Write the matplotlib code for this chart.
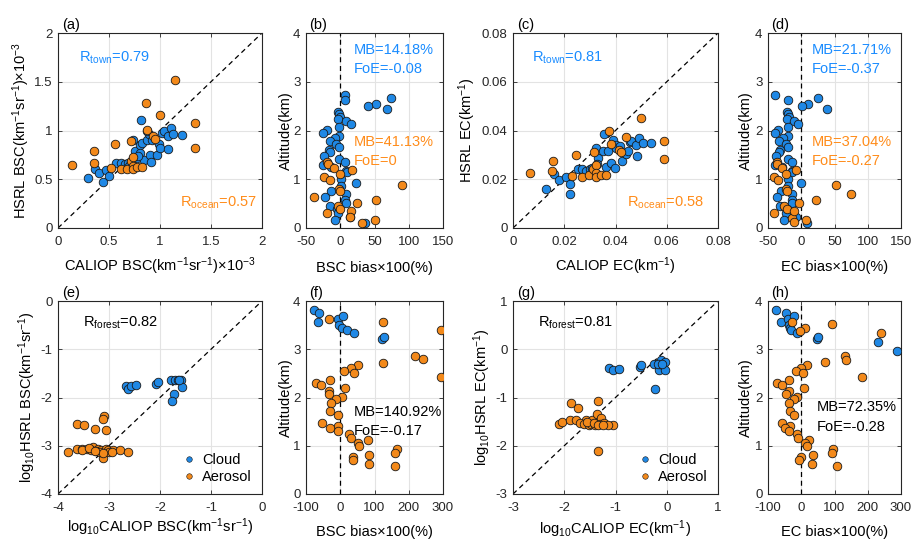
import matplotlib
matplotlib.use("Agg")
import matplotlib.pyplot as plt
from matplotlib.lines import Line2D

plt.rcParams['font.family'] = ['Liberation Sans', 'DejaVu Sans']
plt.rcParams['mathtext.fontset'] = 'custom'
plt.rcParams['mathtext.rm'] = 'Liberation Sans'
plt.rcParams['mathtext.it'] = 'Liberation Sans:italic'
plt.rcParams['mathtext.bf'] = 'Liberation Sans:bold'
plt.rcParams['axes.unicode_minus'] = False

# ---------------- data ----------------
# (a) BSC scatter (x1e-3)
a_town_x = [0.29, 0.36, 0.40, 0.44, 0.47, 0.50, 0.57, 0.62, 0.66, 0.69, 0.72, 0.74, 0.75, 0.77, 0.80, 0.81,
            0.82, 0.80, 0.84, 0.87, 0.89, 0.90, 0.91, 0.97, 0.99, 1.00, 1.02, 1.04, 1.08, 1.08, 1.11, 1.13,
            1.22, 0.87, 0.92, 0.78, 0.70]
a_town_y = [0.51, 0.61, 0.56, 0.475, 0.595, 0.535, 0.67, 0.665, 0.66, 0.665, 0.68, 0.905, 0.79, 0.715, 0.855, 1.11,
            0.87, 0.77, 0.70, 0.905, 0.96, 0.75, 0.68, 0.75, 0.864, 0.82, 0.97, 1.0, 0.94, 0.81, 1.03, 0.96,
            0.95, 0.99, 0.905, 0.74, 0.64]
a_ocean_x = [0.14, 0.35, 0.35, 0.56, 0.52, 0.62, 0.68, 0.72, 0.72, 0.74, 0.74, 0.74, 0.77, 0.82, 0.86, 0.87,
             0.93, 0.95, 1.00, 1.15, 1.34, 1.34]
a_ocean_y = [0.65, 0.785, 0.67, 0.857, 0.62, 0.61, 0.61, 0.895, 0.69, 0.73, 0.64, 0.61, 0.63, 0.63, 1.28, 1.01,
             0.94, 0.91, 1.16, 1.52, 1.08, 0.82]

# (b) BSC bias vs altitude
b_town_x = [7.3, 7.3, 74.5, 52, 40, 68, -3.4, -1.5, 0, -3.4, 8.8, 15.6, -2, -19.5, -25, -1.5, -8.3, -15.6,
            -5.8, -2.4, -17, -15.6, -23, -2.4, 6.3, -25, -13, 8.3, 9.7, 1, 23, 1, -13, 8.3, -22, 6.3,
            8.8, -14.6, -4.9, -3.9, 13.6, -7.3, 36.5]
alt_town = [2.73, 2.62, 2.67, 2.55, 2.50, 2.44, 2.38, 2.33, 2.28, 2.24, 2.20, 2.13, 2.07, 2.02, 1.95, 1.89,
            1.85, 1.78, 1.73, 1.66, 1.59, 1.55, 1.48, 1.41, 1.35, 1.29, 1.25, 1.17, 1.14, 1.0, 0.93, 0.86,
            0.76, 0.70, 0.64, 0.57, 0.52, 0.45, 0.40, 0.30, 0.23, 0.16, 0.10]
b_ocean_x = [-39, -19.5, -18, -24, -14.6, -8.8, -1, 17, -2.4, 0, -3.9, 0, -19.5, 24, 52.6, 90, 15.6, 14.6,
             31.6, 50]
b_ocean_y = [0.64, 1.36, 1.31, 1.05, 0.98, 1.24, 1.11, 1.18, 0.81, 0.76, 0.45, 0.40, 0.30, 0.52, 0.58, 0.88,
             0.34, 0.23, 0.10, 0.16]

# (c) EC scatter
c_town_x = [0.0127, 0.016, 0.0178, 0.0206, 0.0221, 0.0221, 0.0255, 0.0271, 0.0284, 0.030, 0.031, 0.0325,
            0.0332, 0.0329, 0.0351, 0.0355, 0.0364, 0.0371, 0.0384, 0.039, 0.0397, 0.0401, 0.0401, 0.0416,
            0.0427, 0.0442, 0.0449, 0.0455, 0.0462, 0.0481, 0.0484, 0.049, 0.0507, 0.054]
c_town_y = [0.016, 0.022, 0.0197, 0.0211, 0.018, 0.0138, 0.0244, 0.0244, 0.0234, 0.0241, 0.0248, 0.033,
            0.0289, 0.0262, 0.0314, 0.0387, 0.0252, 0.0317, 0.0266, 0.0362, 0.0245, 0.0341, 0.0328, 0.0335,
            0.0273, 0.0303, 0.0317, 0.0351, 0.0358, 0.0339, 0.0296, 0.0368, 0.0348, 0.0348]
c_ocean_x = [0.0065, 0.0156, 0.0152, 0.0245, 0.0229, 0.0271, 0.0297, 0.0316, 0.0312, 0.0325, 0.0325, 0.0325,
             0.0345, 0.0362, 0.0375, 0.0381, 0.0414, 0.042, 0.044, 0.0501, 0.0588, 0.0588]
c_ocean_y = [0.0224, 0.0275, 0.0234, 0.0299, 0.0215, 0.0211, 0.0216, 0.031, 0.0241, 0.0257, 0.0224, 0.0211,
             0.0216, 0.0216, 0.040, 0.0344, 0.0321, 0.0313, 0.0373, 0.045, 0.0358, 0.0285]

# (d) EC bias vs altitude
d_town_x = [-39.4, -19.3, 24.9, 10.8, 1.8, 38.4, -21.9, -19.3, -17.8, -20.8, -10.3, -4.3, -20.3, -35.4, -39.4,
            -20.3, -26.9, -33, -23.4, -20.3, -31.9, -33, -38, -20.3, -13.3, -39.4, -29.4, -14.3, -13.3, -19.3,
            0, -19.3, -30.9, -13.3, -36.9, -14.3, -13.3, -31.9, -21.9, -22.9, -7.8, -25.4, 8.3]
d_ocean_x = [-41, -37, -36, -41, -34.4, -29.4, -23.4, -7.8, -23.4, -21.9, -25.4, -21.9, -14.3, -10.8, -10.3,
             -2.8, 21.9, 52, 75, 6.8]
d_ocean_y = [0.30, 1.36, 1.31, 1.05, 0.98, 1.24, 1.11, 1.18, 0.81, 0.76, 0.45, 0.40, 0.21, 0.34, 0.12, 0.52,
             0.58, 0.88, 0.70, 0.16]

# (e) log10 BSC scatter
e_cloud_x = [-2.67, -2.62, -2.56, -2.48, -2.07, -2.03, -1.78, -1.70, -1.65, -1.59, -1.57, -1.72, -1.76, -1.63]
e_cloud_y = [-1.77, -1.83, -1.77, -1.75, -1.72, -1.67, -1.63, -1.63, -1.63, -1.63, -1.79, -1.93, -2.07, -1.64]
e_aer_x = [-3.80, -3.63, -3.53, -3.43, -3.31, -3.21, -3.15, -3.06, -3.02, -2.92, -2.79, -2.62, -3.11, -3.63,
           -3.49, -3.27, -3.10, -3.11, -3.05, -3.52, -3.35, -3.25, -3.18, -3.0, -3.40, -2.95, -3.12, -3.28]
e_aer_y = [-3.12, -3.06, -3.06, -3.06, -3.03, -3.06, -3.09, -3.07, -3.09, -3.09, -3.09, -3.12, -3.26, -2.54,
           -2.57, -2.66, -2.38, -2.45, -2.68, -3.09, -3.08, -3.10, -3.12, -3.13, -3.05, -3.12, -3.14, -3.11]

# (f) BSC bias vs altitude (forest)
f_cloud_x = [-78, -63, -66, -8, 8, -5, 5, 19.5, 41, 123, 129]
f_cloud_y = [3.81, 3.75, 3.57, 3.63, 3.69, 3.50, 3.45, 3.39, 3.33, 3.21, 3.26]
f_aer_x = [-32, 125, 294, 219, 243, 125, 50.6, 31, 10, 41, 294, -31, -70, -55, -32, -34, 15, 5, -12, -26,
           -29, -8, -53, -8, -29, -8, 27, 32, 80, 51, 56, 165, 161, 83, 37, 36, 83, 161]
f_aer_y = [3.62, 3.57, 3.39, 2.85, 2.79, 2.72, 2.67, 2.61, 2.55, 2.50, 2.43, 2.37, 2.31, 2.26, 2.14, 2.07,
           2.19, 2.01, 1.96, 1.89, 1.71, 1.64, 1.47, 1.41, 1.36, 1.30, 1.24, 1.17, 1.12, 1.06, 0.99, 0.93,
           0.86, 0.81, 0.77, 0.70, 0.63, 0.57]

# (g) log10 EC scatter
g_cloud_x = [-1.13, -1.04, -0.93, -0.53, -0.50, -0.25, -0.15, -0.14, -0.11, -0.07, -0.04, -0.04, -0.22, -0.18, -0.10]
g_cloud_y = [-0.39, -0.43, -0.41, -0.37, -0.32, -0.31, -0.43, -0.31, -0.23, -0.32, -0.26, -0.43, -0.83, -0.31, -0.30]
g_aer_x = [-2.11, -2.04, -1.87, -1.74, -1.89, -1.78, -1.58, -1.45, -1.35, -1.37, -1.29, -1.35, -1.04, -1.70,
           -1.62, -1.52, -1.47, -1.40, -1.30, -1.22, -1.15, -1.55, -1.42, -1.35, -1.25]
g_aer_y = [-1.54, -1.50, -1.12, -1.21, -1.47, -1.47, -1.47, -1.47, -1.07, -1.34, -1.43, -2.10, -1.57, -1.52,
           -1.55, -1.57, -1.55, -1.57, -1.55, -1.53, -1.57, -1.50, -1.52, -1.56, -1.58]

# (h) EC bias vs altitude (forest)
h_cloud_x = [-77, -45, -62, -40, -23, -38, -35, -30, -13, 46, 51, 230, 289]
h_cloud_y = [3.81, 3.75, 3.57, 3.63, 3.69, 3.50, 3.45, 3.39, 3.33, 3.21, 3.26, 3.14, 2.97]
h_aer_x = [-27, 10, -3, 93, 239, 131, 134, 71, 18, 0, -17, 4, 182, -37, -73, -57, -38, -45, 8, -12, -22,
           -37, -35, -23, -58, -33, -50, -37, -13, -10, 24, 11, 18, 94, 91, 34, -2, -7, 31, 108]
h_aer_y = [3.57, 3.45, 3.38, 3.52, 3.33, 2.85, 2.78, 2.74, 2.67, 2.61, 2.55, 2.50, 2.43, 2.37, 2.31, 2.26,
           2.14, 2.07, 2.19, 2.01, 1.96, 1.89, 1.71, 1.64, 1.47, 1.41, 1.36, 1.30, 1.24, 1.17, 1.12, 1.06,
           0.99, 0.93, 0.86, 0.81, 0.77, 0.70, 0.63, 0.57]

# ---------------- style ----------------
BLUE = '#1f88e5'
ORANGE = '#f3891a'
TBLUE = '#1a8cff'
TORANGE = '#ff8c1a'
FS = 10.5
TFS = 9.5
MS = 38

W, H = 917, 541
fig = plt.figure(figsize=(W / 100, H / 100), dpi=100)


def make_ax(x0, x1, y0, y1):
    return fig.add_axes([x0 / W, 1 - y1 / H, (x1 - x0) / W, (y1 - y0) / H])


def style(ax, label):
    ax.tick_params(direction='in', length=3, width=0.6, top=True, right=True, labelsize=TFS,
                   colors='#262626')
    ax.tick_params(axis='x', pad=5.5)
    ax.tick_params(axis='y', pad=4)
    for s in ax.spines.values():
        s.set_linewidth(0.8)
        s.set_color('#262626')
    ax.grid(True, color='#e3e3e3', linewidth=0.8)
    ax.set_axisbelow(True)
    ax.text(0.02, 1.005, label, transform=ax.transAxes, ha='left', va='bottom', fontsize=FS)


def labels(ax, xl, yl, xpos, ypos):
    ax.set_xlabel(xl, fontsize=FS)
    ax.set_ylabel(yl, fontsize=FS)
    ax.xaxis.label.set_va('baseline')
    ax.yaxis.label.set_va('baseline')
    ax.xaxis.set_label_coords(0.5, xpos)
    ax.yaxis.set_label_coords(ypos, 0.5)


def scat(ax, x, y, c):
    ax.scatter(x, y, s=MS, c=c, edgecolors='#1a1a1a', linewidths=0.6, zorder=3)


def diag(ax, lo, hi):
    ax.plot([lo, hi], [lo, hi], ls=(0, (4, 3)), color='k', lw=0.9, zorder=2)


def vline(ax):
    ax.axvline(0, ls=(0, (4, 3)), color='k', lw=0.9, zorder=2)


top = (33, 228)
bot = (301, 494)
cols = [(58, 262), (306, 443), (513, 718), (768, 901)]

# (a)
ax = make_ax(*cols[0], *top)
style(ax, '(a)')
diag(ax, 0, 2)
scat(ax, a_town_x, a_town_y, BLUE)
scat(ax, a_ocean_x, a_ocean_y, ORANGE)
ax.set_xlim(0, 2); ax.set_ylim(0, 2)
ax.set_xticks([0, 0.5, 1, 1.5, 2]); ax.set_yticks([0, 0.5, 1, 1.5, 2])
ax.set_xticklabels(['0', '0.5', '1', '1.5', '2']); ax.set_yticklabels(['0', '0.5', '1', '1.5', '2'])
labels(ax, r'CALIOP BSC(km$^{-1}$sr$^{-1}$)×10$^{-3}$', r'HSRL BSC(km$^{-1}$sr$^{-1}$)×10$^{-3}$',
       -0.22, -0.155)
ax.text(0.21, 1.75, r'R$_{\rm town}$=0.79', color=TBLUE, fontsize=FS, va='center')
ax.text(1.2, 0.26, r'R$_{\rm ocean}$=0.57', color=TORANGE, fontsize=FS, va='center')

# (b)
ax = make_ax(*cols[1], *top)
style(ax, '(b)')
vline(ax)
scat(ax, b_town_x, alt_town, BLUE)
scat(ax, b_ocean_x, b_ocean_y, ORANGE)
ax.set_xlim(-50, 150); ax.set_ylim(0, 4)
ax.set_xticks([-50, 0, 50, 100, 150]); ax.set_yticks([0, 1, 2, 3, 4])
labels(ax, 'BSC bias×100(%)', 'Altitude(km)', -0.226, -0.12)
ax.text(20, 3.65, 'MB=14.18%', color=TBLUE, fontsize=FS, va='center')
ax.text(20, 3.26, 'FoE=-0.08', color=TBLUE, fontsize=FS, va='center')
ax.text(20, 1.76, 'MB=41.13%', color=TORANGE, fontsize=FS, va='center')
ax.text(20, 1.37, 'FoE=0', color=TORANGE, fontsize=FS, va='center')

# (c)
ax = make_ax(*cols[2], *top)
style(ax, '(c)')
diag(ax, 0, 0.08)
scat(ax, c_town_x, c_town_y, BLUE)
scat(ax, c_ocean_x, c_ocean_y, ORANGE)
ax.set_xlim(0, 0.08); ax.set_ylim(0, 0.08)
ticks_c = [0, 0.02, 0.04, 0.06, 0.08]
tl_c = ['0', '0.02', '0.04', '0.06', '0.08']
ax.set_xticks(ticks_c); ax.set_yticks(ticks_c)
ax.set_xticklabels(tl_c); ax.set_yticklabels(tl_c)
labels(ax, r'CALIOP EC(km$^{-1}$)', r'HSRL EC(km$^{-1}$)', -0.22, -0.2)
ax.text(0.0074, 0.070, r'R$_{\rm town}$=0.81', color=TBLUE, fontsize=FS, va='center')
ax.text(0.0445, 0.0103, r'R$_{\rm ocean}$=0.58', color=TORANGE, fontsize=FS, va='center')

# (d)
ax = make_ax(*cols[3], *top)
style(ax, '(d)')
vline(ax)
scat(ax, d_town_x, alt_town, BLUE)
scat(ax, d_ocean_x, d_ocean_y, ORANGE)
ax.set_xlim(-50, 150); ax.set_ylim(0, 4)
ax.set_xticks([-50, 0, 50, 100, 150]); ax.set_yticks([0, 1, 2, 3, 4])
labels(ax, 'EC bias×100(%)', 'Altitude(km)', -0.22, -0.135)
ax.text(16, 3.65, 'MB=21.71%', color=TBLUE, fontsize=FS, va='center')
ax.text(16, 3.26, 'FoE=-0.37', color=TBLUE, fontsize=FS, va='center')
ax.text(16, 1.76, 'MB=37.04%', color=TORANGE, fontsize=FS, va='center')
ax.text(16, 1.37, 'FoE=-0.27', color=TORANGE, fontsize=FS, va='center')

legend_handles = [
    Line2D([], [], ls='none', marker='o', markersize=4, markerfacecolor=BLUE,
           markeredgecolor='#1a1a1a', markeredgewidth=0.4, label='Cloud'),
    Line2D([], [], ls='none', marker='o', markersize=4, markerfacecolor=ORANGE,
           markeredgecolor='#1a1a1a', markeredgewidth=0.4, label='Aerosol'),
]

# (e)
ax = make_ax(*cols[0], *bot)
style(ax, '(e)')
diag(ax, -4, 0)
scat(ax, e_cloud_x, e_cloud_y, BLUE)
scat(ax, e_aer_x, e_aer_y, ORANGE)
ax.set_xlim(-4, 0); ax.set_ylim(-4, 0)
ax.set_xticks([-4, -3, -2, -1, 0]); ax.set_yticks([-4, -3, -2, -1, 0])
labels(ax, r'log$_{10}$CALIOP BSC(km$^{-1}$sr$^{-1}$)', r'log$_{10}$HSRL BSC(km$^{-1}$sr$^{-1}$)',
       -0.197, -0.125)
ax.text(-3.51, -0.46, r'R$_{\rm forest}$=0.82', color='k', fontsize=FS, va='center')
ax.legend(handles=legend_handles, loc='lower right', frameon=False, fontsize=FS,
          handletextpad=0.3, handlelength=1.2, labelspacing=0.2, borderaxespad=0.3)

# (f)
ax = make_ax(*cols[1], *bot)
style(ax, '(f)')
vline(ax)
scat(ax, f_cloud_x, f_cloud_y, BLUE)
scat(ax, f_aer_x, f_aer_y, ORANGE)
ax.set_xlim(-100, 300); ax.set_ylim(0, 4)
ax.set_xticks([-100, 0, 100, 200, 300]); ax.set_yticks([0, 1, 2, 3, 4])
labels(ax, 'BSC bias×100(%)', 'Altitude(km)', -0.218, -0.12)
ax.text(40, 1.70, 'MB=140.92%', color='k', fontsize=FS, va='center')
ax.text(40, 1.30, 'FoE=-0.17', color='k', fontsize=FS, va='center')

# (g)
ax = make_ax(*cols[2], *bot)
style(ax, '(g)')
diag(ax, -3, 1)
scat(ax, g_cloud_x, g_cloud_y, BLUE)
scat(ax, g_aer_x, g_aer_y, ORANGE)
ax.set_xlim(-3, 1); ax.set_ylim(-3, 1)
ax.set_xticks([-3, -2, -1, 0, 1]); ax.set_yticks([-3, -2, -1, 0, 1])
labels(ax, r'log$_{10}$CALIOP EC(km$^{-1}$)', r'log$_{10}$HSRL EC(km$^{-1}$)', -0.207, -0.125)
ax.text(-2.51, 0.54, r'R$_{\rm forest}$=0.81', color='k', fontsize=FS, va='center')
ax.legend(handles=legend_handles, loc='lower right', frameon=False, fontsize=FS,
          handletextpad=0.3, handlelength=1.2, labelspacing=0.2, borderaxespad=0.3)

# (h)
ax = make_ax(*cols[3], *bot)
style(ax, '(h)')
vline(ax)
scat(ax, h_cloud_x, h_cloud_y, BLUE)
scat(ax, h_aer_x, h_aer_y, ORANGE)
ax.set_xlim(-100, 300); ax.set_ylim(0, 4)
ax.set_xticks([-100, 0, 100, 200, 300]); ax.set_yticks([0, 1, 2, 3, 4])
labels(ax, 'EC bias×100(%)', 'Altitude(km)', -0.218, -0.135)
ax.text(47, 1.80, 'MB=72.35%', color='k', fontsize=FS, va='center')
ax.text(47, 1.39, 'FoE=-0.28', color='k', fontsize=FS, va='center')

fig.savefig('out.png', dpi=100)
